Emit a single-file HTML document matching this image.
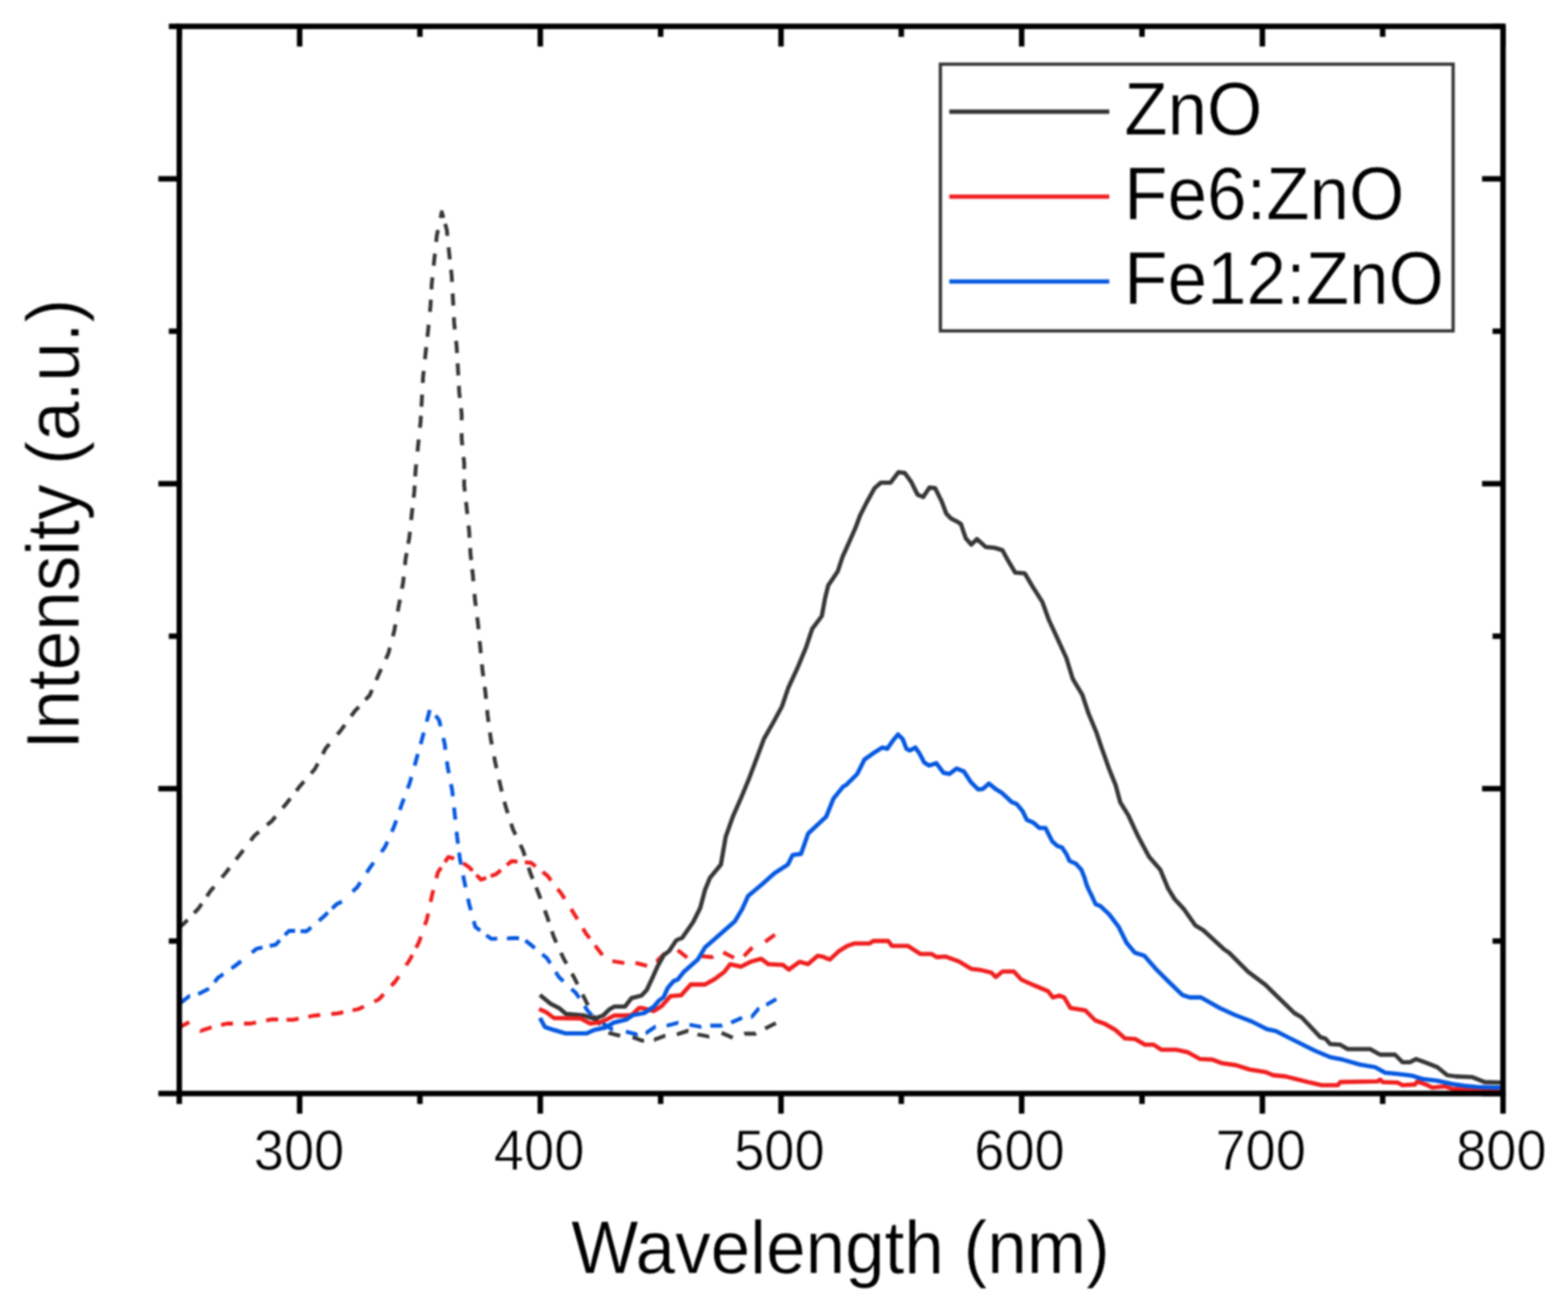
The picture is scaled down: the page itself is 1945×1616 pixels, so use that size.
<!DOCTYPE html><html><head><meta charset="utf-8"><style>html,body{margin:0;padding:0;background:#fff;}svg{display:block;}text{font-family:"Liberation Sans",Arial,sans-serif;fill:#000;}</style></head><body>
<svg width="1945" height="1616" viewBox="0 0 1945 1616">
<defs><filter id="soft" filterUnits="userSpaceOnUse" x="0" y="0" width="1945" height="1616" color-interpolation-filters="sRGB"><feGaussianBlur stdDeviation="0.8"/></filter></defs>
<rect width="1945" height="1616" fill="#fff"/>
<g filter="url(#soft)">
<defs><clipPath id="c"><rect x="222.4" y="32.7" width="1642.0" height="1323.5"/></clipPath></defs>
<g clip-path="url(#c)" fill="none" stroke-width="5.3" stroke-linejoin="round">
<path d="M222.5 1150.0 L227.4 1146.2 L232.6 1140.8 M240.8 1132.4 L246.0 1127.0 L250.2 1120.8 M256.6 1111.6 L260.8 1105.4 L265.6 1099.7 M275.2 1088.2 L280.0 1082.5 L284.6 1076.6 M292.7 1066.1 L297.3 1060.2 L301.9 1054.3 M310.9 1042.4 L315.5 1036.5 L321.2 1031.7 M331.3 1023.2 L337.0 1018.4 L341.8 1012.6 M350.7 1002.0 L355.5 996.2 L360.1 990.3 M367.6 980.7 L372.2 974.8 L377.1 969.2 M385.9 959.1 L390.8 953.5 L394.2 946.8 M400.4 935.1 L403.8 928.4 L408.6 922.7 M418.5 910.9 L423.3 905.2 L427.7 899.1 M435.6 888.1 L440.0 882.0 L445.2 876.6 M453.3 867.9 L458.5 862.5 L461.5 855.6 M466.7 843.4 L469.7 836.5 L472.8 829.7 M478.6 817.3 L481.7 810.5 L483.6 803.2 M487.3 789.1 L489.2 781.8 L490.5 774.4 M493.4 758.4 L494.7 751.0 L496.1 743.6 M498.6 730.1 L500.0 722.7 L500.8 715.2 M502.3 700.8 L503.1 693.3 L504.4 685.9 M506.4 674.4 L507.7 667.0 L508.5 659.5 M510.0 645.1 L510.8 637.6 L511.6 630.1 M513.1 617.2 L513.9 609.7 L514.4 602.2 M515.0 590.9 L515.5 583.4 L516.2 575.9 M517.9 560.0 L518.6 552.5 L519.4 545.0 M520.9 530.6 L521.7 523.1 L522.1 515.6 M522.8 504.3 L523.2 496.8 L523.6 489.3 M524.4 474.9 L524.8 467.4 L525.6 459.9 M527.1 445.5 L527.9 438.0 L528.7 430.5 M530.2 417.7 L531.0 410.2 L531.7 402.7 M533.3 386.7 L534.0 379.2 L534.4 371.7 M535.2 358.9 L535.6 351.4 L536.4 343.9 M537.9 329.5 L538.7 322.0 L539.5 314.5 M541.0 300.1 L541.8 292.6 L543.3 285.3 M546.5 270.3 L548.0 263.0 L550.0 270.2 M552.2 277.7 L554.2 284.9 L555.0 292.4 M556.4 306.8 L557.2 314.3 L558.0 321.8 M559.5 334.6 L560.3 342.1 L560.7 349.6 M561.5 364.0 L561.9 371.5 L562.3 379.0 M563.0 393.4 L563.4 400.9 L564.2 408.4 M565.7 422.8 L566.5 430.3 L566.9 437.8 M567.7 450.6 L568.1 458.1 L568.5 465.6 M569.2 478.5 L569.6 486.0 L570.4 493.5 M571.9 506.3 L572.7 513.8 L572.7 521.3 M572.7 537.3 L572.7 544.8 L573.5 552.3 M575.0 566.7 L575.8 574.2 L575.8 581.7 M575.8 594.5 L575.8 602.0 L576.6 609.5 M578.1 622.4 L578.9 629.9 L579.7 637.4 M581.2 651.8 L582.0 659.3 L582.4 666.8 M583.2 679.6 L583.6 687.1 L584.5 694.6 M585.7 705.9 L586.6 713.4 L587.2 720.9 M588.6 736.6 L589.2 744.1 L590.2 751.5 M591.9 765.5 L592.9 772.9 L593.6 780.4 M595.0 795.1 L595.7 802.6 L596.4 810.1 M597.8 823.9 L598.5 831.4 L599.5 838.8 M601.2 851.8 L602.2 859.2 L602.9 866.7 M604.3 880.5 L605.0 888.0 L606.0 895.4 M607.7 908.4 L608.7 915.8 L610.1 923.2 M612.9 938.1 L614.3 945.5 L615.9 952.8 M619.1 967.0 L620.7 974.3 L622.5 981.6 M625.7 994.2 L627.2 1000.3 L629.9 1008.6 M634.0 1021.4 L636.3 1028.5 L639.5 1035.3 M645.5 1047.7 L648.7 1054.5 L651.0 1061.6 M655.7 1075.9 L658.0 1083.0 L660.8 1090.0 M665.1 1100.7 L667.9 1107.7 L670.5 1114.7 M675.8 1129.1 L678.4 1136.1 L680.8 1143.2 M684.6 1155.0 L687.0 1162.1 L690.1 1168.9 M695.9 1181.7 L698.9 1188.3 L702.7 1195.1 M709.5 1207.5 L712.5 1213.0 L716.4 1220.8 M722.7 1233.4 L726.1 1240.2 L729.3 1246.8 M735.5 1259.4 L737.0 1262.5 L745.0 1270.9 M754.7 1281.0 L769.3 1284.6 M784.6 1286.7 L786.8 1287.0 L796.7 1290.7 L798.9 1290.5 M811.2 1289.5 L811.5 1289.5 L825.0 1284.6 L825.3 1284.6 M839.6 1282.8 L840.0 1282.7 L853.5 1278.4 L853.9 1278.5 M865.2 1282.7 L866.0 1283.0 L879.0 1285.5 L879.8 1285.3 M895.1 1281.0 L908.9 1287.0 M923.1 1282.3 L924.0 1282.0 L937.0 1282.0 L937.9 1281.5 M949.1 1275.7 L962.4 1268.8" stroke="#363636" stroke-width="4.8"/>
<path d="M222.5 1274.0 L234.8 1267.6 M248.4 1278.1 L249.0 1278.5 L262.5 1273.9 M274.2 1271.2 L281.5 1269.5 L289.0 1269.5 M302.7 1269.5 L310.2 1269.5 L317.6 1268.1 M330.2 1265.6 L337.6 1264.2 L345.1 1264.4 M355.5 1264.6 L363.0 1264.8 L370.4 1263.3 M382.4 1261.0 L389.8 1259.5 L397.3 1258.8 M411.0 1257.5 L418.5 1256.8 L425.8 1255.3 M437.3 1253.0 L444.6 1251.5 L451.4 1248.3 M464.3 1242.1 L470.0 1239.4 L475.9 1233.0 M485.4 1222.5 L490.5 1217.0 L494.7 1210.8 M503.7 1197.2 L507.9 1191.0 L511.4 1184.4 M516.1 1175.3 L519.6 1168.7 L522.1 1161.6 M527.0 1147.3 L529.5 1140.2 L531.1 1132.9 M534.1 1118.5 L535.7 1111.2 L537.5 1103.9 M541.3 1089.3 L543.1 1082.0 L547.3 1075.8 M551.9 1069.1 L556.1 1062.9 L563.4 1064.8 M574.5 1070.5 L581.9 1075.5 L586.1 1079.9 M591.0 1085.1 L596.7 1091.0 L603.1 1088.7 M608.6 1086.6 L615.3 1084.2 L621.3 1079.1 M628.8 1072.8 L634.5 1068.0 L642.0 1068.6 M651.1 1069.4 L658.6 1070.0 L664.5 1074.6 M673.1 1081.4 L679.0 1086.0 L683.6 1091.9 M691.7 1102.4 L696.3 1108.3 L700.3 1114.6 M708.4 1127.4 L712.4 1133.7 L716.3 1140.1 M723.1 1151.4 L727.3 1158.4 L731.5 1163.8 M738.2 1172.6 L747.3 1184.5 M759.6 1192.0 L759.6 1192.0 L774.4 1194.4 L774.4 1194.4 M788.3 1194.1 L802.7 1197.9 M814.0 1192.5 L815.0 1192.0 L824.0 1183.0 L825.1 1182.7 M840.6 1178.4 L852.4 1187.6 M870.0 1186.2 L872.0 1186.0 L883.0 1187.0 L884.8 1186.2 M897.1 1181.2 L910.5 1187.8 M922.8 1185.7 L933.3 1175.0 M949.2 1168.0 L961.3 1159.1" stroke="#f01e1e" stroke-width="4.8"/>
<path d="M223.7 1244.0 L234.8 1235.4 L235.8 1235.2 M245.9 1232.9 L259.3 1226.1 M266.1 1218.0 L270.5 1212.4 L276.9 1208.2 L277.1 1208.1 M287.1 1201.0 L291.5 1198.0 L299.1 1192.0 M312.5 1181.3 L318.4 1176.6 L325.7 1175.0 M334.6 1173.2 L341.9 1171.6 L347.1 1166.2 M353.4 1159.7 L358.6 1154.3 L366.1 1154.5 M372.8 1154.8 L380.3 1155.0 L386.0 1150.1 M395.6 1141.9 L401.3 1137.0 L406.7 1131.8 M412.0 1126.7 L417.4 1121.5 L424.1 1118.1 M437.4 1105.7 L442.9 1100.6 L447.0 1094.3 M454.9 1082.2 L459.0 1075.9 L463.4 1069.8 M473.1 1056.6 L477.5 1050.5 L480.6 1043.7 M486.0 1031.4 L489.1 1024.6 L491.5 1017.5 M496.0 1004.5 L498.4 997.4 L501.0 990.4 M505.7 977.8 L508.3 970.8 L510.3 963.6 M514.3 949.5 L516.3 942.3 L518.3 935.1 M521.8 922.9 L523.8 915.7 L525.7 908.5 M529.3 895.0 L531.2 887.8 L533.0 880.5 M540.4 887.3 L544.8 893.4 L546.5 900.7 M549.9 915.2 L551.6 922.5 L552.5 929.9 M554.4 944.2 L555.3 951.6 L556.8 959.0 M559.4 972.6 L560.9 980.0 L561.7 987.5 M563.2 1001.5 L564.0 1009.0 L564.8 1016.5 M566.4 1031.5 L567.0 1037.6 L568.1 1046.4 M569.5 1057.4 L570.4 1064.8 L571.9 1072.2 M574.5 1085.8 L576.0 1093.2 L577.6 1100.5 M580.5 1114.4 L582.1 1121.7 L584.1 1128.9 M587.7 1142.4 L589.6 1149.5 L595.7 1154.1 M603.3 1159.8 L609.4 1164.4 L616.8 1164.2 M628.8 1163.8 L636.3 1163.5 L643.8 1163.5 M651.7 1166.4 L660.0 1173.0 L663.4 1175.8 M672.7 1183.5 L678.5 1188.3 L682.5 1194.7 M689.3 1205.5 L693.3 1211.8 L698.8 1216.9 M708.9 1226.5 L714.4 1231.6 L718.5 1237.8 M725.1 1247.7 L729.2 1253.9 L734.4 1259.3 M747.6 1268.9 L760.0 1277.0 L760.2 1277.0 M776.4 1279.5 L777.0 1279.6 L790.5 1283.0 L791.0 1282.9 M800.8 1281.1 L801.6 1281.0 L812.7 1273.5 L813.5 1273.4 M826.9 1272.1 L827.5 1272.0 L841.0 1268.5 L841.5 1268.6 M855.3 1270.9 L856.0 1271.0 L869.5 1273.5 L870.1 1273.4 M881.0 1272.1 L882.0 1272.0 L895.0 1272.0 L896.0 1271.7 M906.9 1268.3 L920.6 1262.2 M931.5 1261.1 L932.5 1261.0 L941.0 1251.0 L941.8 1250.6 M950.5 1246.2 L951.0 1246.0 L963.0 1239.0" stroke="#0558e0" stroke-width="4.8"/>
<path d="M669.8 1234.0 L683.4 1245.2 L693.3 1250.1 L702.0 1257.5 L724.5 1259.5 L737.0 1263.5 L748.1 1259.5 L755.6 1252.1 L761.7 1248.4 L775.3 1248.4 L783.3 1237.9 L795.7 1234.8 L802.2 1227.9 L809.7 1211.8 L815.8 1198.2 L823.3 1184.6 L830.0 1179.5 L838.9 1166.1 L846.3 1163.1 L859.7 1143.8 L868.6 1126.0 L874.5 1103.8 L880.5 1088.9 L894.2 1072.3 L900.1 1038.2 L909.0 1012.9 L919.4 989.2 L929.8 963.9 L938.7 940.2 L947.6 916.4 L961.0 892.7 L969.9 876.3 L977.8 853.1 L989.7 827.3 L999.6 803.6 L1007.5 779.8 L1019.4 764.0 L1023.4 742.2 L1027.3 726.3 L1039.2 708.5 L1045.1 690.7 L1053.1 672.9 L1061.0 655.0 L1066.9 639.2 L1074.9 623.4 L1084.8 605.5 L1092.7 598.6 L1104.6 598.6 L1114.5 585.7 L1122.4 586.7 L1130.3 597.6 L1138.2 613.5 L1145.1 616.4 L1153.1 604.6 L1160.0 605.5 L1167.9 621.4 L1173.9 637.2 L1179.8 643.2 L1187.7 647.1 L1192.0 650.0 L1197.9 667.5 L1204.9 675.4 L1211.8 668.5 L1222.7 678.4 L1233.6 679.4 L1243.5 682.4 L1250.4 695.2 L1259.3 710.1 L1271.2 711.1 L1281.1 727.9 L1293.0 746.7 L1300.9 768.5 L1312.8 794.3 L1322.7 816.0 L1330.6 841.8 L1342.5 861.6 L1350.4 885.3 L1360.3 909.1 L1365.9 925.9 L1375.8 953.7 L1383.8 973.5 L1389.7 995.2 L1399.6 1011.1 L1411.5 1036.8 L1425.3 1062.6 L1439.2 1078.4 L1449.1 1102.2 L1457.0 1115.0 L1468.9 1127.9 L1482.8 1147.7 L1492.7 1153.7 L1518.4 1177.4 L1524.4 1181.4 L1548.1 1205.1 L1570.0 1221.6 L1579.3 1230.9 L1605.5 1256.4 L1614.7 1261.8 L1637.9 1286.4 L1644.0 1288.0 L1650.2 1294.9 L1662.5 1295.7 L1671.8 1301.1 L1699.6 1301.1 L1711.9 1308.0 L1730.4 1308.0 L1739.7 1317.3 L1748.9 1317.3 L1756.6 1313.4 L1769.0 1318.0 L1782.9 1323.5 L1795.2 1333.5 L1806.0 1335.0 L1826.0 1335.8 L1841.5 1342.0 L1862.0 1342.7" stroke="#363636"/>
<path d="M668.6 1251.4 L677.2 1255.1 L687.1 1262.5 L720.4 1263.2 L732.1 1269.4 L743.2 1268.1 L752.5 1264.4 L761.7 1259.5 L774.1 1259.5 L783.7 1258.8 L792.6 1250.2 L796.0 1250.1 L810.9 1253.9 L820.8 1247.7 L831.9 1235.3 L844.8 1234.4 L856.7 1221.0 L874.5 1221.0 L886.4 1214.4 L898.3 1205.5 L905.7 1195.8 L919.1 1198.8 L931.0 1192.8 L944.3 1189.1 L953.2 1195.8 L971.1 1196.6 L978.5 1202.5 L991.8 1192.8 L1002.2 1195.8 L1014.1 1185.4 L1020.0 1186.3 L1029.3 1190.1 L1040.0 1180.1 L1050.8 1173.2 L1060.1 1170.1 L1078.6 1170.1 L1083.2 1167.0 L1101.8 1167.0 L1106.4 1173.2 L1126.4 1173.2 L1141.9 1183.2 L1155.7 1183.2 L1161.9 1187.0 L1172.7 1186.3 L1189.7 1192.4 L1205.1 1201.7 L1217.4 1203.2 L1229.8 1206.3 L1235.2 1211.7 L1243.7 1204.8 L1257.5 1204.8 L1266.8 1214.8 L1282.2 1221.8 L1300.0 1229.3 L1306.2 1237.0 L1313.9 1234.7 L1320.0 1237.0 L1327.8 1250.1 L1346.3 1253.2 L1358.6 1265.5 L1371.0 1270.1 L1383.3 1277.1 L1395.6 1287.9 L1408.0 1288.6 L1420.3 1295.6 L1431.1 1295.6 L1440.4 1301.8 L1458.9 1301.8 L1472.8 1304.8 L1488.2 1313.3 L1503.6 1314.1 L1516.0 1318.7 L1532.9 1321.0 L1549.9 1326.4 L1570.0 1329.6 L1579.3 1333.5 L1594.7 1335.0 L1607.0 1338.1 L1625.5 1342.7 L1639.4 1345.8 L1659.5 1345.8 L1662.5 1342.0 L1708.8 1341.2 L1711.9 1338.9 L1715.0 1342.0 L1733.5 1342.7 L1739.7 1345.8 L1755.1 1345.0 L1758.2 1341.2 L1770.5 1345.8 L1776.7 1348.9 L1792.1 1347.3 L1801.4 1350.4 L1816.8 1351.2 L1840.0 1353.0 L1862.0 1354.0" stroke="#f01e1e"/>
<path d="M669.8 1262.5 L676.0 1273.7 L687.1 1277.4 L702.0 1281.7 L727.8 1281.7 L737.0 1277.4 L751.2 1274.3 L761.7 1268.1 L777.2 1264.4 L785.0 1259.0 L799.0 1256.5 L811.0 1248.5 L817.3 1241.0 L823.3 1236.5 L828.2 1225.4 L835.6 1216.7 L840.4 1215.1 L848.0 1205.6 L865.6 1189.9 L874.5 1175.0 L884.9 1166.1 L911.7 1142.4 L920.6 1127.5 L928.0 1111.2 L945.8 1096.3 L961.0 1082.7 L977.3 1072.3 L983.2 1060.4 L993.6 1059.0 L1002.5 1033.7 L1024.8 1012.9 L1033.7 990.7 L1045.6 975.8 L1050.0 973.2 L1063.4 959.8 L1072.3 942.0 L1082.7 934.6 L1094.6 927.1 L1100.5 928.6 L1107.9 918.2 L1113.9 910.8 L1119.8 916.7 L1124.3 928.6 L1128.7 930.8 L1135.4 927.1 L1140.6 934.6 L1146.5 945.7 L1152.5 949.4 L1161.4 946.4 L1170.3 958.3 L1177.7 959.8 L1186.6 953.1 L1195.6 956.8 L1204.5 970.2 L1213.4 979.1 L1219.3 978.4 L1226.7 971.7 L1235.7 979.1 L1243.1 983.6 L1255.0 994.7 L1260.9 996.9 L1268.3 1005.8 L1273.7 1016.7 L1282.1 1020.4 L1289.5 1026.9 L1296.9 1026.9 L1301.5 1036.2 L1305.3 1043.6 L1311.7 1049.2 L1317.3 1051.0 L1322.9 1059.4 L1326.6 1067.7 L1334.9 1071.4 L1341.4 1078.8 L1345.1 1088.1 L1347.9 1097.4 L1350.7 1103.9 L1354.4 1111.3 L1359.1 1121.5 L1364.6 1123.4 L1375.8 1133.9 L1387.7 1149.7 L1397.6 1169.5 L1407.5 1181.4 L1419.4 1185.3 L1435.2 1203.2 L1449.1 1217.0 L1466.6 1233.9 L1475.8 1237.0 L1489.7 1237.0 L1512.9 1250.1 L1531.4 1258.6 L1553.0 1267.0 L1571.5 1276.3 L1582.3 1278.7 L1600.8 1288.0 L1631.7 1303.4 L1650.2 1311.1 L1665.6 1314.2 L1687.2 1320.4 L1705.7 1323.5 L1718.1 1330.4 L1733.5 1331.9 L1752.0 1334.2 L1764.4 1338.1 L1782.9 1340.4 L1801.4 1344.3 L1816.8 1346.6 L1832.2 1348.1 L1862.0 1349.0" stroke="#0558e0"/>
</g>
<g stroke="#000" stroke-width="6.8" fill="none" stroke-linecap="square">
<rect x="222.4" y="32.7" width="1642.0" height="1323.5" stroke-linejoin="miter"/>
<line x1="222.4" y1="1356.2" x2="222.4" y2="1369.2" stroke-linecap="butt"/>
<line x1="222.4" y1="32.7" x2="222.4" y2="45.7" stroke-linecap="butt"/>
<line x1="371.7" y1="1356.2" x2="371.7" y2="1381.2" stroke-linecap="butt"/>
<line x1="371.7" y1="32.7" x2="371.7" y2="57.7" stroke-linecap="butt"/>
<line x1="520.9" y1="1356.2" x2="520.9" y2="1369.2" stroke-linecap="butt"/>
<line x1="520.9" y1="32.7" x2="520.9" y2="45.7" stroke-linecap="butt"/>
<line x1="670.2" y1="1356.2" x2="670.2" y2="1381.2" stroke-linecap="butt"/>
<line x1="670.2" y1="32.7" x2="670.2" y2="57.7" stroke-linecap="butt"/>
<line x1="819.5" y1="1356.2" x2="819.5" y2="1369.2" stroke-linecap="butt"/>
<line x1="819.5" y1="32.7" x2="819.5" y2="45.7" stroke-linecap="butt"/>
<line x1="968.8" y1="1356.2" x2="968.8" y2="1381.2" stroke-linecap="butt"/>
<line x1="968.8" y1="32.7" x2="968.8" y2="57.7" stroke-linecap="butt"/>
<line x1="1118.0" y1="1356.2" x2="1118.0" y2="1369.2" stroke-linecap="butt"/>
<line x1="1118.0" y1="32.7" x2="1118.0" y2="45.7" stroke-linecap="butt"/>
<line x1="1267.3" y1="1356.2" x2="1267.3" y2="1381.2" stroke-linecap="butt"/>
<line x1="1267.3" y1="32.7" x2="1267.3" y2="57.7" stroke-linecap="butt"/>
<line x1="1416.6" y1="1356.2" x2="1416.6" y2="1369.2" stroke-linecap="butt"/>
<line x1="1416.6" y1="32.7" x2="1416.6" y2="45.7" stroke-linecap="butt"/>
<line x1="1565.9" y1="1356.2" x2="1565.9" y2="1381.2" stroke-linecap="butt"/>
<line x1="1565.9" y1="32.7" x2="1565.9" y2="57.7" stroke-linecap="butt"/>
<line x1="1715.1" y1="1356.2" x2="1715.1" y2="1369.2" stroke-linecap="butt"/>
<line x1="1715.1" y1="32.7" x2="1715.1" y2="45.7" stroke-linecap="butt"/>
<line x1="1864.4" y1="1356.2" x2="1864.4" y2="1381.2" stroke-linecap="butt"/>
<line x1="1864.4" y1="32.7" x2="1864.4" y2="57.7" stroke-linecap="butt"/>
<line x1="222.4" y1="1356.2" x2="196.4" y2="1356.2" stroke-linecap="butt"/>
<line x1="1864.4" y1="1356.2" x2="1838.4" y2="1356.2" stroke-linecap="butt"/>
<line x1="222.4" y1="1167.1" x2="209.4" y2="1167.1" stroke-linecap="butt"/>
<line x1="1864.4" y1="1167.1" x2="1851.4" y2="1167.1" stroke-linecap="butt"/>
<line x1="222.4" y1="978.1" x2="196.4" y2="978.1" stroke-linecap="butt"/>
<line x1="1864.4" y1="978.1" x2="1838.4" y2="978.1" stroke-linecap="butt"/>
<line x1="222.4" y1="789.0" x2="209.4" y2="789.0" stroke-linecap="butt"/>
<line x1="1864.4" y1="789.0" x2="1851.4" y2="789.0" stroke-linecap="butt"/>
<line x1="222.4" y1="599.9" x2="196.4" y2="599.9" stroke-linecap="butt"/>
<line x1="1864.4" y1="599.9" x2="1838.4" y2="599.9" stroke-linecap="butt"/>
<line x1="222.4" y1="410.8" x2="209.4" y2="410.8" stroke-linecap="butt"/>
<line x1="1864.4" y1="410.8" x2="1851.4" y2="410.8" stroke-linecap="butt"/>
<line x1="222.4" y1="221.8" x2="196.4" y2="221.8" stroke-linecap="butt"/>
<line x1="1864.4" y1="221.8" x2="1838.4" y2="221.8" stroke-linecap="butt"/>
<line x1="222.4" y1="32.7" x2="209.4" y2="32.7" stroke-linecap="butt"/>
<line x1="1864.4" y1="32.7" x2="1851.4" y2="32.7" stroke-linecap="butt"/>
</g>
<text transform="translate(370.9 1451.3) scale(1 1.05)" font-size="67.3" text-anchor="middle" stroke="#fff" stroke-width="0.8">300</text>
<text transform="translate(668.7 1451.3) scale(1 1.05)" font-size="67.3" text-anchor="middle" stroke="#fff" stroke-width="0.8">400</text>
<text transform="translate(966.8 1451.3) scale(1 1.05)" font-size="67.3" text-anchor="middle" stroke="#fff" stroke-width="0.8">500</text>
<text transform="translate(1264.6 1451.3) scale(1 1.05)" font-size="67.3" text-anchor="middle" stroke="#fff" stroke-width="0.8">600</text>
<text transform="translate(1563.8 1451.3) scale(1 1.05)" font-size="67.3" text-anchor="middle" stroke="#fff" stroke-width="0.8">700</text>
<text transform="translate(1862.3 1451.3) scale(1 1.05)" font-size="67.3" text-anchor="middle" stroke="#fff" stroke-width="0.8">800</text>
<text transform="translate(1042.5 1579) scale(1 1.05)" font-size="88.2" text-anchor="middle" stroke="#fff" stroke-width="0.6">Wavelength (nm)</text>
<text transform="translate(97.8 650) rotate(-90) scale(1 1.05)" font-size="88.2" text-anchor="middle" stroke="#fff" stroke-width="0.6">Intensity (a.u.)</text>
<rect x="1166.5" y="79.6" width="636" height="330.8" fill="none" stroke="#333" stroke-width="4"/>
<line x1="1177.5" y1="138.5" x2="1376" y2="138.5" stroke="#363636" stroke-width="5.3"/>
<text transform="translate(1394.5 166.6) scale(1 1.05)" font-size="88.1" stroke="#fff" stroke-width="0.6">ZnO</text>
<line x1="1177.5" y1="243.8" x2="1376" y2="243.8" stroke="#f01e1e" stroke-width="5.3"/>
<text transform="translate(1394.5 271.6) scale(1 1.05)" font-size="88.1" stroke="#fff" stroke-width="0.6">Fe6:ZnO</text>
<line x1="1177.5" y1="349.2" x2="1376" y2="349.2" stroke="#0558e0" stroke-width="5.3"/>
<text transform="translate(1394.5 377.2) scale(1 1.05)" font-size="88.1" stroke="#fff" stroke-width="0.6">Fe12:ZnO</text>
</g>
</svg></body></html>
